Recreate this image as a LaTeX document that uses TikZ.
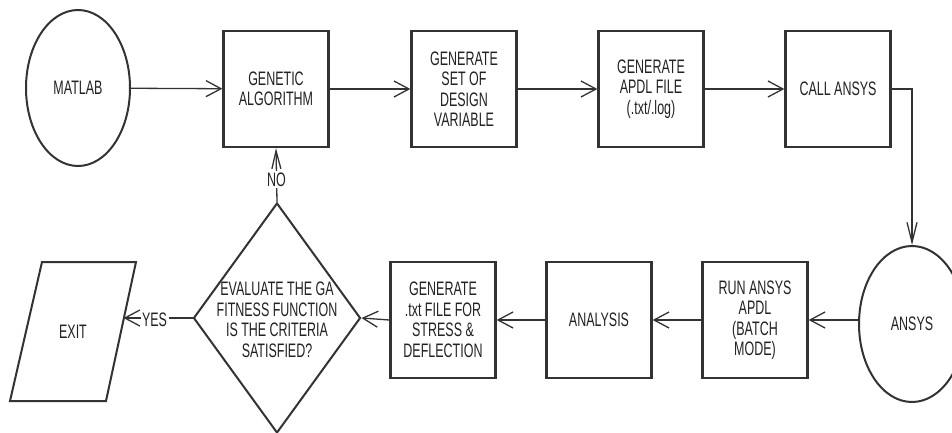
\documentclass[tikz,border=0pt]{standalone}
\usepackage{fontspec}
\setmainfont[FakeStretch=0.64]{Liberation Sans}
\usetikzlibrary{shapes.geometric,arrows.meta}
\definecolor{ink}{HTML}{333333}
\definecolor{txtc}{HTML}{222222}
\tikzset{
  box/.style={draw=ink, line width=2.3pt, minimum width=105pt, minimum height=116pt, inner sep=0pt, align=center, text=txtc},
  oval/.style={ellipse, draw=ink, line width=2pt, minimum width=104pt, minimum height=156pt, inner sep=0pt, align=center, text=txtc},
  conn/.style={draw=ink, line width=1.3pt},
  harr/.style={conn, -{Straight Barb[length=15pt,width=16pt]}},
  varr/.style={conn, -{Straight Barb[length=18pt,width=9pt]}},
  lbl/.style={fill=white, inner sep=1.5pt, text=txtc},
  txt/.style={align=center, text=txtc, inner sep=0pt}
}
\begin{document}
\begin{tikzpicture}[x=1pt,y=-1pt, every node/.append style={font=\fontsize{19.5}{20.5}\selectfont}]
\useasboundingbox (0,0) rectangle (952,433);
\fill[white] (0,0) rectangle (952,433);
\begin{scope}
\clip (0,0) rectangle (952,433);
% top row
\node[oval] (matlab) at (78,88) {MATLAB};
\node[box] (ga) at (276,89) {GENETIC\\ALGORITHM};
\node[box] (gsd) at (464,89) {GENERATE\\SET OF\\DESIGN\\VARIABLE};
\node[box] (apdl) at (651,89) {GENERATE\\APDL FILE\\(.txt/.log)};
\node[box] (call) at (838,89) {CALL ANSYS};
% bottom row
\node[oval, minimum width=106pt] (ansys) at (912,324) {ANSYS};
\node[box] (run) at (755,320) {RUN ANSYS\\APDL\\(BATCH\\MODE)};
\node[box] (ana) at (599,320) {ANALYSIS};
\node[box] (gtxt) at (443,320) {GENERATE\\.txt FILE FOR\\STRESS \&\\DEFLECTION};
\node[diamond, draw=ink, line width=2pt, minimum width=167pt, minimum height=230pt, inner sep=0pt] (dec) at (277,318) {};
\node[txt] (dect) at (277,320) {EVALUATE THE GA\\FITNESS FUNCTION\\IS THE CRITERIA\\SATISFIED?};
% exit parallelogram
\draw[draw=ink, line width=2pt] (10,401) -- (106,401) -- (136,262) -- (42,262) -- cycle;
\node[txt] (exit) at (73,332) {EXIT};
\coordinate (exitR) at (123.5,318);
% connectors
\draw[harr] (matlab) -- (ga);
\draw[harr] (ga) -- (gsd);
\draw[harr] (gsd) -- (apdl);
\draw[harr] (apdl) -- (call);
\draw[conn, -{Straight Barb[length=20pt,width=10pt]}] (call.east) -| (ansys.north);
\draw[harr] (ansys.west |- run.east) -- (run.east);
\draw[harr] (run) -- (ana);
\draw[harr] (ana) -- (gtxt);
\draw[harr] (gtxt.west) -- (dec.east);
\draw[varr] (dec.north) -- node[lbl, pos=0.42] (no) {NO} (ga.south);
\draw[harr] (dec.west) -- node[lbl, pos=0.55, yshift=-2pt] (yes) {YES} (exitR);
\end{scope}
\end{tikzpicture}
\end{document}
